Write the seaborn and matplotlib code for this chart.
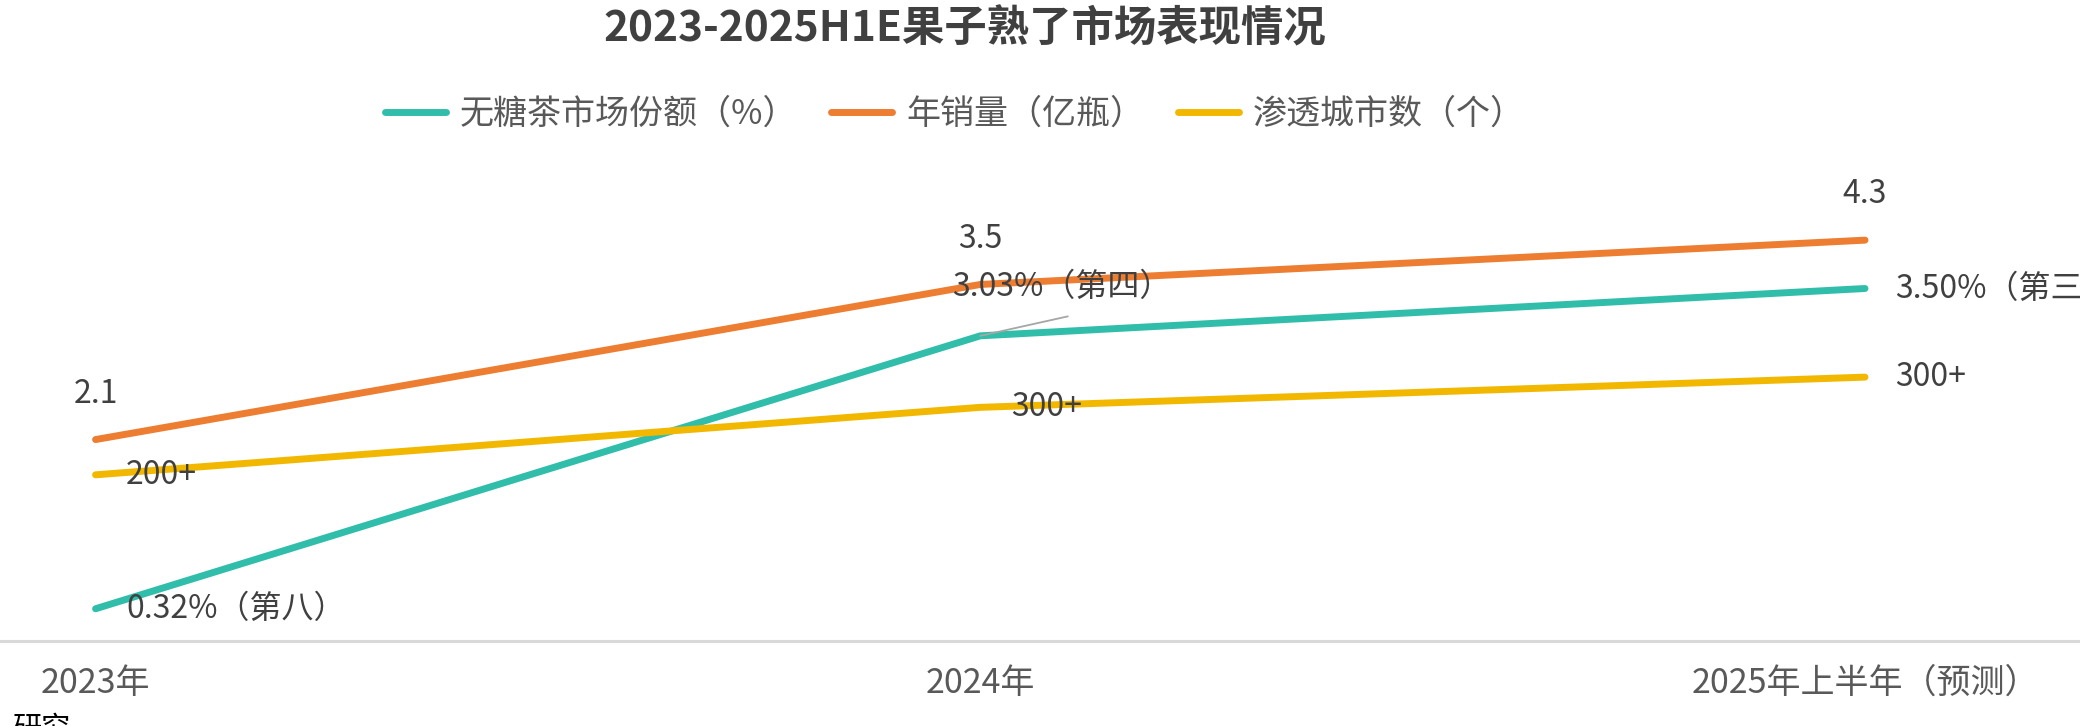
import numpy as np
import pandas as pd
import matplotlib
matplotlib.use('Agg')
import matplotlib.pyplot as plt
import seaborn as sns

# categories and series
periods = ['2023年', '2024年', '2025年上半年（预测）']
share = [0.32, 3.03, 3.50]          # 无糖茶市场份额（%）
share_text = ['0.32%（第八）', '3.03%（第四）', '3.50%（第三）']
sales_level = [2.00, 3.54, 3.98]    # 年销量（亿瓶）
sales_text = ['2.1', '3.5', '4.3']
city_level = [1.65, 2.32, 2.62]     # 渗透城市数（个）
city_text = ['200+', '300+', '300+']

names = ['无糖茶市场份额（%）', '年销量（亿瓶）', '渗透城市数（个）']
colors = {names[0]: '#30BEAB', names[1]: '#ED7D31', names[2]: '#F2B800'}

df = pd.DataFrame({
    'period': periods * 3,
    'series': [names[0]] * 3 + [names[1]] * 3 + [names[2]] * 3,
    'value': share + sales_level + city_level,
})

sns.set_style('white')
plt.rcParams['font.family'] = ['Noto Sans CJK SC', 'DejaVu Sans']

fig = plt.figure(figsize=(20.8, 7.26), dpi=100)
ax = fig.add_axes([0, 85 / 726, 1, 0.763])

sns.lineplot(data=df, x='period', y='value', hue='series', hue_order=names,
             palette=colors, linewidth=5, sort=False, ax=ax, legend=False)
for ln in ax.get_lines():
    ln.set_solid_capstyle('round')
    ln.set_solid_joinstyle('round')

ax.set_xlim(-0.108, 2.243)
ax.set_ylim(0, 5.5)
ax.set_xlabel('')
ax.set_ylabel('')
ax.set_yticks([])
ax.set_xticks(range(3))
ax.set_xticklabels(periods, fontsize=24.5, color='#595959')
ax.tick_params(axis='x', length=0, pad=18)
for s in ['top', 'left', 'right']:
    ax.spines[s].set_visible(False)
ax.spines['bottom'].set_color('#d9d9d9')
ax.spines['bottom'].set_linewidth(2.2)

lab = dict(fontsize=23, color='#404040', annotation_clip=False)
# data labels
for i in range(3):
    ax.annotate(sales_text[i], (i, sales_level[i]), xytext=(0, 33),
                textcoords='offset points', ha='center', va='center', **lab)
for i in range(3):
    ax.annotate(city_text[i], (i, city_level[i]), xytext=(22, 0),
                textcoords='offset points', ha='left', va='center', **lab)
for i in [0, 2]:
    ax.annotate(share_text[i], (i, share[i]), xytext=(22, 0),
                textcoords='offset points', ha='left', va='center', **lab)
ax.annotate(share_text[1], (1, share[1]), xytext=(-20, 35),
            textcoords='offset points', ha='left', va='center', **lab)
# leader line for the 2024 share label
ax.annotate('', (1, share[1]), xytext=(63, 14), textcoords='offset points',
            arrowprops=dict(arrowstyle='-', color='#a6a6a6', lw=1.3,
                            shrinkA=0, shrinkB=0))

handles = ax.get_lines()[:3]
leg = fig.legend(handles, names, loc='center', bbox_to_anchor=(0.459, 0.843),
                 ncol=3, frameon=False, fontsize=24.5, handlelength=1.8,
                 handletextpad=0.4, columnspacing=1.0)
for t in leg.get_texts():
    t.set_color('#595959')

fig.text(0.464, 0.96, '2023-2025H1E果子熟了市场表现情况', ha='center',
         va='center', fontsize=30.5, fontweight='bold', color='#404040')
fig.text(12 / 2080, 12 / 726, '研究', ha='left', va='top', fontsize=21,
         color='#000000')

fig.savefig('out.png', dpi=100, facecolor='white')
